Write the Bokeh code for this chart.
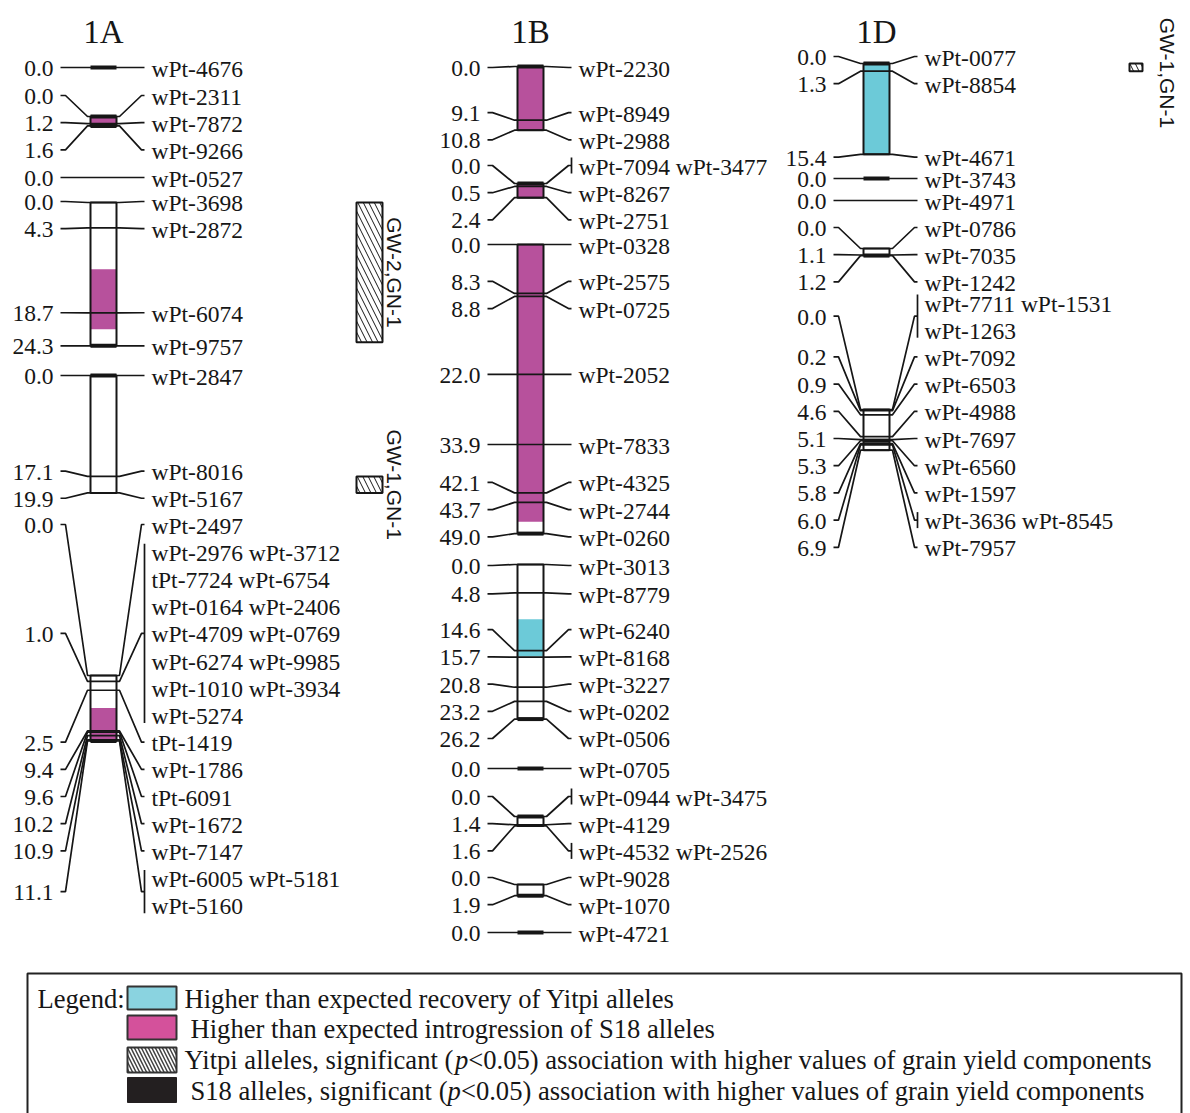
import math
from bokeh.plotting import figure
from bokeh.models import Range1d
from bokeh.embed import file_html
from bokeh.resources import INLINE
from bokeh.core.properties import value

# ---------------- data ----------------
# linkage groups: segment number, position (cM), marker label(s) ("|" separates stacked rows)
A_seg = [1, 2, 2, 2, 3, 4, 4, 4, 4, 5, 5, 5, 6, 6, 6, 6, 6, 6, 6, 6]
A_cm = [0.0, 0.0, 1.2, 1.6, 0.0, 0.0, 4.3, 18.7, 24.3, 0.0, 17.1, 19.9,
        0.0, 1.0, 2.5, 9.4, 9.6, 10.2, 10.9, 11.1]
A_mk = ["wPt-4676", "wPt-2311", "wPt-7872", "wPt-9266", "wPt-0527",
        "wPt-3698", "wPt-2872", "wPt-6074", "wPt-9757",
        "wPt-2847", "wPt-8016", "wPt-5167",
        "wPt-2497",
        "wPt-2976 wPt-3712|tPt-7724 wPt-6754|wPt-0164 wPt-2406|wPt-4709 wPt-0769|"
        "wPt-6274 wPt-9985|wPt-1010 wPt-3934|wPt-5274",
        "tPt-1419", "wPt-1786", "tPt-6091", "wPt-1672", "wPt-7147",
        "wPt-6005 wPt-5181|wPt-5160"]

B_seg = [1, 1, 1, 2, 2, 2, 3, 3, 3, 3, 3, 3, 3, 3, 4, 4, 4, 4, 4, 4, 4, 5, 6, 6, 6, 7, 7, 8]
B_cm = [0.0, 9.1, 10.8, 0.0, 0.5, 2.4, 0.0, 8.3, 8.8, 22.0, 33.9, 42.1, 43.7, 49.0,
        0.0, 4.8, 14.6, 15.7, 20.8, 23.2, 26.2, 0.0, 0.0, 1.4, 1.6, 0.0, 1.9, 0.0]
B_mk = ["wPt-2230", "wPt-8949", "wPt-2988", "wPt-7094 wPt-3477", "wPt-8267", "wPt-2751",
        "wPt-0328", "wPt-2575", "wPt-0725", "wPt-2052", "wPt-7833", "wPt-4325", "wPt-2744",
        "wPt-0260", "wPt-3013", "wPt-8779", "wPt-6240", "wPt-8168", "wPt-3227", "wPt-0202",
        "wPt-0506", "wPt-0705", "wPt-0944 wPt-3475", "wPt-4129", "wPt-4532 wPt-2526",
        "wPt-9028", "wPt-1070", "wPt-4721"]

D_seg = [1, 1, 1, 2, 3, 4, 4, 4, 5, 5, 5, 5, 5, 5, 5, 5, 5]
D_cm = [0.0, 1.3, 15.4, 0.0, 0.0, 0.0, 1.1, 1.2, 0.0, 0.2, 0.9, 4.6, 5.1, 5.3, 5.8, 6.0, 6.9]
D_mk = ["wPt-0077", "wPt-8854", "wPt-4671", "wPt-3743", "wPt-4971", "wPt-0786", "wPt-7035",
        "wPt-1242", "wPt-7711 wPt-1531|wPt-1263", "wPt-7092", "wPt-6503", "wPt-4988",
        "wPt-7697", "wPt-6560", "wPt-1597", "wPt-3636 wPt-8545", "wPt-7957"]

# segregation distortion intervals (cM)
dist_grp = ["1A", "1A", "1A", "1B", "1B", "1B", "1B", "1D"]
dist_seg = [2, 4, 6, 1, 2, 3, 4, 1]
dist_from = [0.0, 11.3, 5.5, 0.0, 0.0, 0.0, 9.3, 0.0]
dist_to = [1.6, 21.5, 11.1, 10.8, 2.4, 47.0, 15.6, 15.4]
dist_kind = ["S18", "S18", "S18", "S18", "S18", "S18", "Yitpi", "Yitpi"]

# S18 alleles with significant association (cM)
s18_grp = ["1A", "1A", "1A", "1A", "1A", "1A", "1B", "1B", "1B", "1B", "1B", "1B", "1B", "1B",
           "1D", "1D", "1D", "1D"]
s18_seg = [1, 2, 2, 4, 5, 6, 1, 2, 3, 4, 5, 6, 7, 8, 1, 2, 4, 5]
s18_cm = [0.0, 0.0, 1.6, 24.3, 0.0, 11.1, 0.0, 0.0, 49.0, 26.2, 0.0, 0.0, 1.9, 0.0,
          0.0, 0.0, 1.2, 5.3]

# Yitpi alleles with significant association (QTL intervals, cM)
qtl_grp = ["1A", "1A", "1D"]
qtl_seg = [4, 5, 1]
qtl_from = [0.0, 17.1, 0.0]
qtl_to = [23.7, 19.9, 1.3]
qtl_name = ["GW-2,GN-1", "GW-1,GN-1", "GW-1,GN-1"]

legend_items = ["Higher than expected recovery of Yitpi alleles",
                "Higher than expected introgression of S18 alleles",
                "Yitpi alleles, significant (|p|<0.05) association with higher values of grain yield components",
                "S18 alleles, significant (|p|<0.05) association with higher values of grain yield components"]

# ---------------- layout / style ----------------
W, H = 1190, 1113
KPX = 5.9          # pixels per cM
ROW = 27.2         # label row pitch
BAR_W = 26
col_left = {"1A": 90, "1B": 517, "1D": 863}
seg_top = {"1A": [67, 116, 177, 202, 375, 675],
           "1B": [66, 183, 244, 564, 768, 816, 884, 932],
           "1D": [63, 178, 200, 248, 409]}
seg_row0 = {"1A": [67, 95, 177, 201, 375, 524],
            "1B": [67, 165, 244, 565, 768, 796, 877, 932],
            "1D": [56, 178, 200, 227, 302]}
qtl_w = [26, 26, 13]
QTL_DX = 266

INK = "#161616"
PINK = "#B7519C"
CYAN = "#6CCAD8"
SERIF = value("Liberation Serif")
SANS = value("Liberation Sans")
FS = "23.5px"

groups = {"1A": (A_seg, A_cm, A_mk), "1B": (B_seg, B_cm, B_mk), "1D": (D_seg, D_cm, D_mk)}


def place_labels(ideal, nrows, step):
    clusters = []

    def solve(c):
        r, tot, n = 0, 0.0, 0
        for j in c:
            for _ in range(nrows[j]):
                tot += ideal[j] - r * step
                r += 1
                n += 1
        return tot / n, r

    for j in range(len(ideal)):
        clusters.append([j])
        while len(clusters) > 1:
            s1, _ = solve(clusters[-1])
            s0, r0 = solve(clusters[-2])
            if s1 < s0 + r0 * step - 1e-9:
                last = clusters.pop()
                clusters[-1].extend(last)
            else:
                break
    starts = [0.0] * len(ideal)
    for c in clusters:
        s, _ = solve(c)
        r = 0
        for j in c:
            starts[j] = s + r * step
            r += nrows[j]
    return starts


p = figure(width=W, height=H, x_range=Range1d(0, W), y_range=Range1d(H, 0),
           output_backend="svg", toolbar_location=None, min_border=0,
           x_axis_type=None, y_axis_type=None, outline_line_color=None,
           background_fill_color="white", border_fill_color="white")
p.xgrid.visible = False
p.ygrid.visible = False

bar_q = dict(l=[], r=[], t=[], b=[])
col_q = dict(l=[], r=[], t=[], b=[], c=[])
blk_q = dict(l=[], r=[], t=[], b=[])
lines_x, lines_y = [], []
num_t = dict(x=[], y=[], t=[])
mk_t = dict(x=[], y=[], t=[])
title_t = dict(x=[], y=[], t=[])
seg_ref = {}

for g, (segs, cms_all, mks_all) in groups.items():
    bl = col_left[g]
    br = bl + BAR_W
    title_t["x"].append(bl + BAR_W / 2)
    title_t["y"].append(31)
    title_t["t"].append(g)
    for si, (top, row0) in enumerate(zip(seg_top[g], seg_row0[g])):
        idx = [i for i in range(len(segs)) if segs[i] == si + 1]
        cms = [cms_all[i] for i in idx]
        rows_txt = [mks_all[i].split("|") for i in idx]
        ideal = [c * KPX for c in cms]
        nrows = [len(r) for r in rows_txt]
        starts = place_labels(ideal, nrows, ROW)
        shift = row0 - starts[0]
        seg_ref[(g, si + 1)] = top
        length = max(cms) * KPX
        if length > 0:
            bar_q["l"].append(bl); bar_q["r"].append(br)
            bar_q["t"].append(top); bar_q["b"].append(top + length)
        for j, c in enumerate(cms):
            ym = top + c * KPX
            first = starts[j] + shift
            yc = first + (nrows[j] - 1) / 2 * ROW
            grouped = nrows[j] > 1 or " " in rows_txt[j][0]
            xs = [bl - 30, bl - 25, bl - 3, br + 3, br + 25, br + 28]
            ys = [yc, yc, ym, ym, yc, yc]
            lines_x.append(xs); lines_y.append(ys)
            if grouped:
                lines_x.append([br + 28, br + 28])
                lines_y.append([first - 8, first + (nrows[j] - 1) * ROW + 8])
            num_t["x"].append(bl - 37); num_t["y"].append(yc + 1)
            num_t["t"].append("%.1f" % c)
            for k, txt in enumerate(rows_txt[j]):
                mk_t["x"].append(br + 35); mk_t["y"].append(first + k * ROW + 1)
                mk_t["t"].append(txt)

for g, s, a, b, kind in zip(dist_grp, dist_seg, dist_from, dist_to, dist_kind):
    top = seg_ref[(g, s)]
    col_q["l"].append(col_left[g]); col_q["r"].append(col_left[g] + BAR_W)
    col_q["t"].append(top + a * KPX); col_q["b"].append(top + b * KPX)
    col_q["c"].append(PINK if kind == "S18" else CYAN)

for g, s, c in zip(s18_grp, s18_seg, s18_cm):
    y = seg_ref[(g, s)] + c * KPX
    blk_q["l"].append(col_left[g]); blk_q["r"].append(col_left[g] + BAR_W)
    blk_q["t"].append(y - 2); blk_q["b"].append(y + 2)

# bars
p.quad(left=bar_q["l"], right=bar_q["r"], top=bar_q["t"], bottom=bar_q["b"],
       fill_color="white", line_color=None)
p.quad(left=col_q["l"], right=col_q["r"], top=col_q["t"], bottom=col_q["b"],
       fill_color=col_q["c"], line_color=None)
p.multi_line(xs=lines_x, ys=lines_y, line_color=INK, line_width=1.7)
p.quad(left=blk_q["l"], right=blk_q["r"], top=blk_q["t"], bottom=blk_q["b"],
       fill_color=INK, line_color=None)
p.quad(left=bar_q["l"], right=bar_q["r"], top=bar_q["t"], bottom=bar_q["b"],
       fill_color=None, line_color=INK, line_width=2)

# texts
p.text(x=num_t["x"], y=num_t["y"], text=num_t["t"], text_font=SERIF, text_font_size=FS,
       text_align="right", text_baseline="middle", text_color=INK)
p.text(x=mk_t["x"], y=mk_t["y"], text=mk_t["t"], text_font=SERIF, text_font_size=FS,
       text_align="left", text_baseline="middle", text_color=INK)
p.text(x=title_t["x"], y=title_t["y"], text=title_t["t"], text_font=SERIF,
       text_font_size="33px", text_align="center", text_baseline="middle", text_color=INK)

# QTL boxes
ARIAL = {"G": .778, "W": .944, "-": .333, "1": .556, "2": .556, ",": .278, "N": .722}
for g, s, a, b, name, w in zip(qtl_grp, qtl_seg, qtl_from, qtl_to, qtl_name, qtl_w):
    top = seg_ref[(g, s)]
    x0 = col_left[g] + QTL_DX
    y0, y1 = top + a * KPX, top + b * KPX
    p.quad(left=[x0], right=[x0 + w], top=[y0], bottom=[y1], fill_color="white",
           line_color=INK, line_width=2, hatch_pattern="\\", hatch_color=INK,
           hatch_scale=11, hatch_weight=1)
    tl = sum(ARIAL.get(ch, .556) for ch in name) * 21
    yc = max((y0 + y1) / 2, 17 + tl / 2)
    p.text(x=[x0 + 38], y=[yc], text=[name], angle=-math.pi / 2, text_font=SANS,
           text_font_size="21px", text_align="center", text_baseline="middle",
           text_color=INK)

# legend
p.quad(left=[27], right=[1181], top=[973], bottom=[1130], fill_color=None,
       line_color="#222222", line_width=2)
LFS = 26.6
p.text(x=[37], y=[998], text=["Legend:"], text_font=SERIF, text_font_size="%.1fpx" % LFS,
       text_align="left", text_baseline="middle", text_color=INK)
sw_top = [986, 1015, 1047, 1077]
sw_bot = [1009, 1039, 1072, 1102]
txt_x = [184, 190, 184, 190]
txt_y = [998, 1028, 1059, 1090]
p.quad(left=[127], right=[176], top=[sw_top[0]], bottom=[sw_bot[0]], fill_color="#8AD3E0",
       line_color="#333333", line_width=2)
p.quad(left=[127], right=[176], top=[sw_top[1]], bottom=[sw_bot[1]], fill_color="#D4519B",
       line_color="#333333", line_width=2)
p.quad(left=[127], right=[176], top=[sw_top[2]], bottom=[sw_bot[2]], fill_color="white",
       line_color="#333333", line_width=2, hatch_pattern="\\", hatch_color="#444444",
       hatch_scale=7, hatch_weight=1.5)
p.quad(left=[127], right=[176], top=[sw_top[3]], bottom=[sw_bot[3]], fill_color="#231F20",
       line_color="#231F20", line_width=1)

TIMES = {"Y": .722, "i": .278, "t": .278, "p": .5, " ": .25, "a": .444, "l": .278, "e": .444,
         "s": .389, ",": .25, "g": .5, "n": .5, "f": .333, "c": .444, "(": .333, "S": .556,
         "1": .5, "8": .5}
for item, x, y in zip(legend_items, txt_x, txt_y):
    parts = item.split("|")
    cx = x
    for k, part in enumerate(parts):
        p.text(x=[cx], y=[y], text=[part], text_font=SERIF, text_font_size="%.1fpx" % LFS,
               text_font_style="italic" if k == 1 else "normal",
               text_align="left", text_baseline="middle", text_color=INK)
        cx += sum(TIMES.get(ch, .5) for ch in part) * LFS

open("out.html", "w").write(file_html(p, INLINE))
